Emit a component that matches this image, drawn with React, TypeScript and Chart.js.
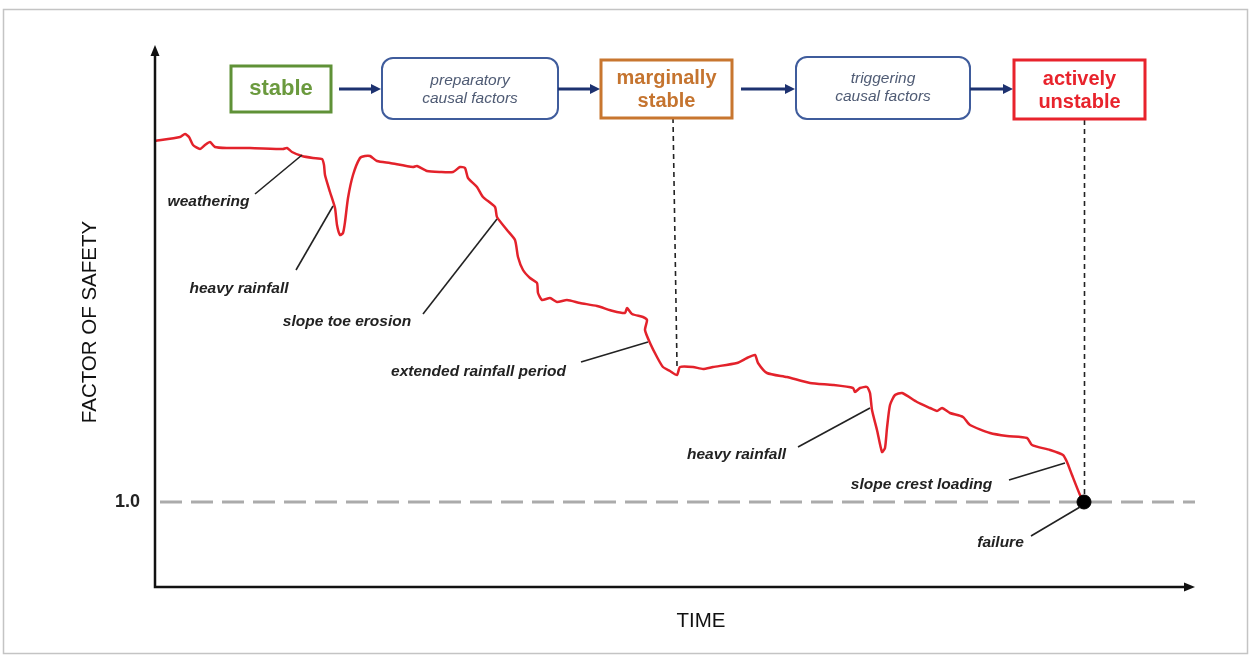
import React, { useEffect, useRef } from "react";
import { Chart, registerables } from "chart.js";

Chart.register(...registerables);

// ---- data (time in arbitrary units, factor of safety) ----
const timeValues = [
  0, 2.5, 3.0, 3.4, 3.8, 4.5, 5.0, 5.5, 6.0, 7.2, 9.5, 12.8, 13.2, 13.7, 14.7, 15.8, 16.7, 16.9, 17.0, 17.5,
  18.0, 18.2, 18.5, 18.8, 19.0, 19.3, 19.8, 20.5, 21.0, 21.5, 22.2, 23.5, 25.8, 26.2, 27.2, 28.5, 29.8, 30.5,
  31.0, 31.3, 32.2, 32.8, 34.0, 34.2, 35.2, 36.0, 36.3, 36.8, 37.5, 38.2, 38.3, 38.7, 39.5, 40.2, 41.2, 42.5,
  44.2, 45.8, 47.0, 47.2, 47.7, 48.8, 49.2, 49.0, 49.5, 50.2, 50.8, 51.5, 52.2, 52.5, 53.8, 54.8, 55.8, 58.2,
  59.2, 60.0, 60.3, 61.2, 63.2, 65.5, 67.8, 69.8, 70.0, 70.5, 71.2, 71.5, 71.7, 72.2, 72.7, 73.0, 73.2, 73.5,
  74.0, 74.7, 76.2, 77.5, 78.2, 78.7, 79.5, 80.8, 81.5, 83.5, 85.2, 87.2, 87.7, 89.5, 90.8, 91.2, 91.7, 92.5,
  92.9,
];
const fosValues = [
  1.361, 1.365, 1.368, 1.365, 1.357, 1.353, 1.357, 1.36, 1.355, 1.354, 1.354, 1.353, 1.354, 1.35, 1.346, 1.344,
  1.343, 1.337, 1.327, 1.31, 1.294, 1.277, 1.267, 1.269, 1.28, 1.304, 1.327, 1.344, 1.346, 1.346, 1.341, 1.339,
  1.335, 1.336, 1.331, 1.33, 1.33, 1.335, 1.334, 1.324, 1.315, 1.305, 1.295, 1.285, 1.272, 1.262, 1.245, 1.232,
  1.224, 1.219, 1.209, 1.202, 1.204, 1.2, 1.202, 1.199, 1.196, 1.191, 1.189, 1.194, 1.188, 1.185, 1.182, 1.172,
  1.159, 1.145, 1.135, 1.131, 1.127, 1.135, 1.135, 1.133, 1.135, 1.139, 1.144, 1.147, 1.139, 1.129, 1.125,
  1.119, 1.117, 1.114, 1.11, 1.114, 1.115, 1.109, 1.092, 1.072, 1.05, 1.054, 1.074, 1.097, 1.107, 1.109, 1.1,
  1.094, 1.091, 1.094, 1.089, 1.085, 1.077, 1.069, 1.066, 1.064, 1.057, 1.052, 1.047, 1.04, 1.027, 1.007, 1.0,
];

const failureTime = [92.9];
const failureFos = [1.0];
const thresholdTime = [0.5, 104];
const thresholdFos = [1.0, 1.0];
const marginalTime = [51.8, 52.2];
const marginalFos = [1.384, 1.136];
const activeTime = [92.95, 92.95];
const activeFos = [1.382, 1.0];

const yTickValues = [1.0];
const yTickLabels = ["1.0"];
const xAxisTitle = "TIME";
const yAxisTitle = "FACTOR OF SAFETY";

const annotationLabels = [
  "weathering",
  "heavy rainfall",
  "slope toe erosion",
  "extended rainfall period",
  "heavy rainfall",
  "slope crest loading",
  "failure",
];
const annotationTextTime = [5.35, 8.4, 19.2, 32.35, 58.15, 76.65, 84.55];
const annotationTextFos = [1.3, 1.213, 1.18, 1.13, 1.047, 1.017, 0.959];
const leaderFromTime = [10.0, 14.1, 26.8, 42.6, 64.3, 85.4, 87.6];
const leaderFromFos = [1.308, 1.232, 1.188, 1.14, 1.055, 1.022, 0.966];
const leaderToTime = [14.7, 17.8, 34.2, 49.3, 71.5, 91.0, 92.5];
const leaderToFos = [1.347, 1.296, 1.283, 1.16, 1.094, 1.039, 0.995];

const stageLabels = [
  ["stable"],
  ["preparatory", "causal factors"],
  ["marginally", "stable"],
  ["triggering", "causal factors"],
  ["actively", "unstable"],
];

// ---- layout / style ----
const W = 1250;
const H = 658;
const FONT = '"Liberation Sans", Arial, Helvetica, sans-serif';
const stageBoxes = [
  { x: 231, y: 66, w: 100, h: 46, color: "#5f9137", text: "#6b9a3e", round: 0, lw: 3, font: "bold 22px", lines: [89] },
  { x: 382, y: 58, w: 176, h: 61, color: "#3f5c9c", text: "#4f5b74", round: 11, lw: 2, font: "italic 15.5px", lines: [81, 99] },
  { x: 601, y: 60, w: 131, h: 58, color: "#c8762f", text: "#c5742f", round: 0, lw: 3, font: "bold 20px", lines: [78, 101] },
  { x: 796, y: 57, w: 174, h: 62, color: "#3f5c9c", text: "#4f5b74", round: 11, lw: 2, font: "italic 15.5px", lines: [79, 97] },
  { x: 1014, y: 60, w: 131, h: 59, color: "#e8232c", text: "#e8232c", round: 0, lw: 3, font: "bold 20px", lines: [79, 102] },
];
const flowArrows = [
  [339, 381],
  [558, 600],
  [741, 795],
  [970, 1013],
];

function pts(xs: number[], ys: number[]) {
  return xs.map((x, i) => ({ x, y: ys[i] }));
}

function roundRect(ctx: CanvasRenderingContext2D, x: number, y: number, w: number, h: number, r: number) {
  ctx.beginPath();
  if (r <= 0) {
    ctx.rect(x, y, w, h);
    return;
  }
  ctx.moveTo(x + r, y);
  ctx.lineTo(x + w - r, y);
  ctx.arcTo(x + w, y, x + w, y + r, r);
  ctx.lineTo(x + w, y + h - r);
  ctx.arcTo(x + w, y + h, x + w - r, y + h, r);
  ctx.lineTo(x + r, y + h);
  ctx.arcTo(x, y + h, x, y + h - r, r);
  ctx.lineTo(x, y + r);
  ctx.arcTo(x, y, x + r, y, r);
  ctx.closePath();
}

const decorPlugin = {
  id: "decor",
  beforeDraw(chart: any) {
    const ctx: CanvasRenderingContext2D = chart.ctx;
    ctx.save();
    ctx.fillStyle = "#ffffff";
    ctx.fillRect(0, 0, W, H);
    ctx.strokeStyle = "#c4c4c4";
    ctx.lineWidth = 1.5;
    ctx.strokeRect(3.5, 9.5, W - 6, H - 14);
    ctx.restore();
  },
  afterDatasetsDraw(chart: any) {
    const ctx: CanvasRenderingContext2D = chart.ctx;
    const xs = chart.scales.x;
    const ys = chart.scales.y;
    const a = chart.chartArea;
    ctx.save();

    // axes with arrows
    ctx.strokeStyle = "#111";
    ctx.fillStyle = "#111";
    ctx.lineWidth = 2.5;
    ctx.beginPath();
    ctx.moveTo(a.left, a.top + 6);
    ctx.lineTo(a.left, a.bottom);
    ctx.lineTo(a.right - 6, a.bottom);
    ctx.stroke();
    ctx.beginPath();
    ctx.moveTo(a.left, a.top);
    ctx.lineTo(a.left - 4.5, a.top + 11);
    ctx.lineTo(a.left + 4.5, a.top + 11);
    ctx.closePath();
    ctx.fill();
    ctx.beginPath();
    ctx.moveTo(a.right, a.bottom);
    ctx.lineTo(a.right - 11, a.bottom - 4.5);
    ctx.lineTo(a.right - 11, a.bottom + 4.5);
    ctx.closePath();
    ctx.fill();

    // axis titles
    ctx.fillStyle = "#111";
    ctx.font = `20.5px ${FONT}`;
    ctx.textAlign = "center";
    ctx.textBaseline = "middle";
    ctx.fillText(xAxisTitle, 701, 621);
    ctx.save();
    ctx.translate(90, 322);
    ctx.rotate(-Math.PI / 2);
    ctx.fillText(yAxisTitle, 0, 0);
    ctx.restore();

    // annotations
    ctx.font = `italic bold 15.5px ${FONT}`;
    ctx.fillStyle = "#222";
    ctx.strokeStyle = "#222";
    ctx.lineWidth = 1.6;
    annotationLabels.forEach((label, i) => {
      ctx.fillText(label, xs.getPixelForValue(annotationTextTime[i]), ys.getPixelForValue(annotationTextFos[i]));
      ctx.beginPath();
      ctx.moveTo(xs.getPixelForValue(leaderFromTime[i]), ys.getPixelForValue(leaderFromFos[i]));
      ctx.lineTo(xs.getPixelForValue(leaderToTime[i]), ys.getPixelForValue(leaderToFos[i]));
      ctx.stroke();
    });

    // stage boxes
    stageBoxes.forEach((b, i) => {
      ctx.fillStyle = "#fff";
      roundRect(ctx, b.x, b.y, b.w, b.h, b.round);
      ctx.fill();
      ctx.strokeStyle = b.color;
      ctx.lineWidth = b.lw;
      ctx.stroke();
      ctx.fillStyle = b.text;
      ctx.font = `${b.font} ${FONT}`;
      stageLabels[i].forEach((t, j) => ctx.fillText(t, b.x + b.w / 2, b.lines[j]));
    });

    // flow arrows
    ctx.strokeStyle = "#1d3270";
    ctx.fillStyle = "#1d3270";
    ctx.lineWidth = 3;
    flowArrows.forEach(([x0, x1]) => {
      const y = 89;
      ctx.beginPath();
      ctx.moveTo(x0, y);
      ctx.lineTo(x1 - 8, y);
      ctx.stroke();
      ctx.beginPath();
      ctx.moveTo(x1, y);
      ctx.lineTo(x1 - 10, y - 5);
      ctx.lineTo(x1 - 10, y + 5);
      ctx.closePath();
      ctx.fill();
    });

    ctx.restore();
  },
};

export default function App() {
  const ref = useRef<HTMLCanvasElement>(null);
  useEffect(() => {
    if (!ref.current) return;
    const chart = new Chart(ref.current, {
      type: "line",
      data: {
        datasets: [
          {
            label: "failure",
            data: pts(failureTime, failureFos),
            showLine: false,
            pointRadius: 7,
            pointBackgroundColor: "#000",
            pointBorderColor: "#000",
            order: 0,
          },
          {
            label: "factor of safety",
            data: pts(timeValues, fosValues),
            borderColor: "#e3222b",
            borderWidth: 2.5,
            pointRadius: 0,
            tension: 0.2,
            fill: false,
            order: 1,
          },
          {
            label: "marginal",
            data: pts(marginalTime, marginalFos),
            borderColor: "#222",
            borderWidth: 1.6,
            borderDash: [5, 4],
            pointRadius: 0,
            order: 2,
          },
          {
            label: "active",
            data: pts(activeTime, activeFos),
            borderColor: "#222",
            borderWidth: 1.6,
            borderDash: [5, 4],
            pointRadius: 0,
            order: 2,
          },
          {
            label: "threshold",
            data: pts(thresholdTime, thresholdFos),
            borderColor: "#ababab",
            borderWidth: 3,
            borderDash: [22, 9],
            pointRadius: 0,
            order: 3,
          },
        ],
      },
      options: {
        animation: false,
        responsive: false,
        devicePixelRatio: 1,
        clip: false,
        layout: { padding: { left: 0, right: 55, top: 45, bottom: 0 } },
        plugins: { legend: { display: false }, tooltip: { enabled: false } },
        scales: {
          x: {
            type: "linear",
            min: 0,
            max: 104,
            grid: { display: false },
            border: { display: false },
            ticks: { display: false },
            afterFit: (s: any) => {
              s.height = 71;
            },
          },
          y: {
            type: "linear",
            min: 0.915,
            max: 1.457,
            grid: { display: false, drawTicks: false },
            border: { display: false },
            afterBuildTicks: (s: any) => {
              s.ticks = yTickValues.map((v) => ({ value: v }));
            },
            afterFit: (s: any) => {
              s.width = 155;
            },
            ticks: {
              padding: 15,
              color: "#222",
              font: { family: FONT, size: 18, weight: "bold" },
              callback: (_v: any, i: number) => yTickLabels[i],
            },
          },
        },
      } as any,
      plugins: [decorPlugin],
    });
    return () => chart.destroy();
  }, []);
  return (
    <div style={{ position: "fixed", left: 0, top: 0, width: W, height: H, background: "#fff" }}>
      <canvas ref={ref} width={W} height={H} style={{ display: "block" }} />
    </div>
  );
}
